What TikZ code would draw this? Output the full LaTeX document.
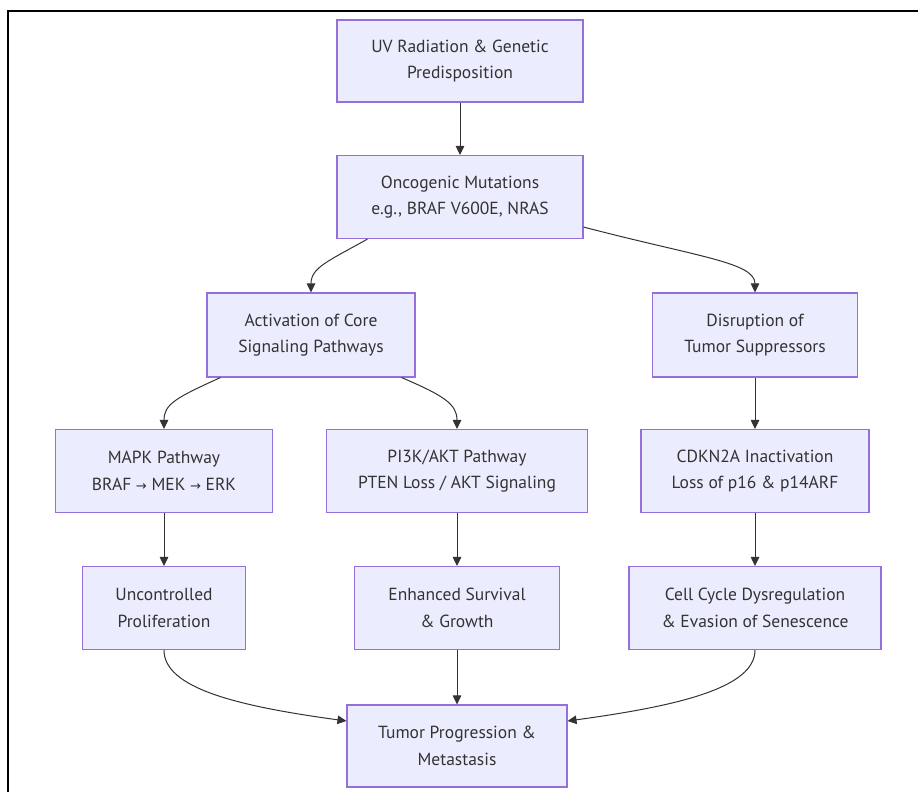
\documentclass[tikz,border=0pt]{standalone}
\usepackage{fontspec}
\setmainfont{PT Sans}
\newfontfamily\arrowfont{DejaVu Sans}
\usetikzlibrary{arrows.meta,calc}
\definecolor{boxfill}{HTML}{ECECFF}
\definecolor{boxline}{HTML}{9370DB}
\definecolor{inkgray}{HTML}{333333}
\newcommand{\ra}{{\arrowfont\fontsize{13}{26}\selectfont →}}
\begin{document}
\begin{tikzpicture}[x=1pt,y=-1pt,
  stage/.style={draw=boxline, fill=boxfill, line width=1.1pt, rectangle,
    align=center, text=inkgray, inner sep=0pt,
    font=\fontsize{17.5}{26.5}\selectfont},
  flow/.style={draw=inkgray, line width=1pt,
    -{Triangle[length=9pt,width=8.5pt]}}]
\useasboundingbox (0,0) rectangle (918,792);
% outer frame (top and left edges)
\draw[line width=2.2pt, black] (8,792) -- (8,11) -- (918,11);

% nodes
\node[stage, minimum width=246, minimum height=82] (uv) at (460,61)
  {UV Radiation \& Genetic\\Predisposition};
\node[stage, minimum width=246, minimum height=83] (onco) at (460,197)
  {Oncogenic Mutations\\e.g., BRAF V600E, NRAS};
\node[stage, minimum width=208, minimum height=84] (act) at (311,335)
  {Activation of Core\\Signaling Pathways};
\node[stage, minimum width=205, minimum height=84] (dis) at (755,335)
  {Disruption of\\Tumor Suppressors};
\node[stage, minimum width=217, minimum height=83] (mapk) at (164,471)
  {MAPK Pathway\\BRAF \ra{} MEK \ra{} ERK};
\node[stage, minimum width=261, minimum height=83] (pik) at (457,471)
  {PI3K/AKT Pathway\\PTEN Loss / AKT Signaling};
\node[stage, minimum width=228, minimum height=83] (cdkn) at (755,471)
  {CDKN2A Inactivation\\Loss of p16 \& p14ARF};
\node[stage, minimum width=163, minimum height=83] (prolif) at (164,608)
  {Uncontrolled\\Proliferation};
\node[stage, minimum width=205, minimum height=83] (surv) at (457,608)
  {Enhanced Survival\\\& Growth};
\node[stage, minimum width=252, minimum height=83] (cell) at (755,608)
  {Cell Cycle Dysregulation\\\& Evasion of Senescence};
\node[stage, minimum width=220, minimum height=82] (tumor) at (457,746)
  {Tumor Progression \&\\Metastasis};

% connectors
\draw[flow] (uv.south) -- (onco.north);
\draw[flow] ([xshift=31pt]onco.south west)
  .. controls ([xshift=-8pt,yshift=-22pt]onco.south west) and ([yshift=25pt]act.north) .. (act.north);
\draw[flow] ([yshift=12pt]onco.south east)
  .. controls ([xshift=115pt,yshift=-18pt]onco.south east) and ([yshift=30pt]dis.north) .. (dis.north);
\draw[flow] ([xshift=14pt]act.south west)
  .. controls ([xshift=-30pt,yshift=-20pt]act.south west) and ([yshift=25pt]mapk.north) .. (mapk.north);
\draw[flow] ([xshift=-14pt]act.south east)
  .. controls ([xshift=28pt,yshift=-18pt]act.south east) and ([yshift=25pt]pik.north) .. (pik.north);
\draw[flow] (dis.south) -- (cdkn.north);
\draw[flow] (mapk.south) -- (prolif.north);
\draw[flow] (pik.south) -- (surv.north);
\draw[flow] (cdkn.south) -- (cell.north);
\draw[flow] (surv.south) -- (tumor.north);
\draw[flow] (prolif.south)
  .. controls ([yshift=-38pt]prolif.south) and ([xshift=-110pt,yshift=40pt]tumor.west) .. ([yshift=25pt]tumor.west);
\draw[flow] (cell.south)
  .. controls ([yshift=-38pt]cell.south) and ([xshift=110pt,yshift=40pt]tumor.east) .. ([yshift=25pt]tumor.east);
\end{tikzpicture}
\end{document}
